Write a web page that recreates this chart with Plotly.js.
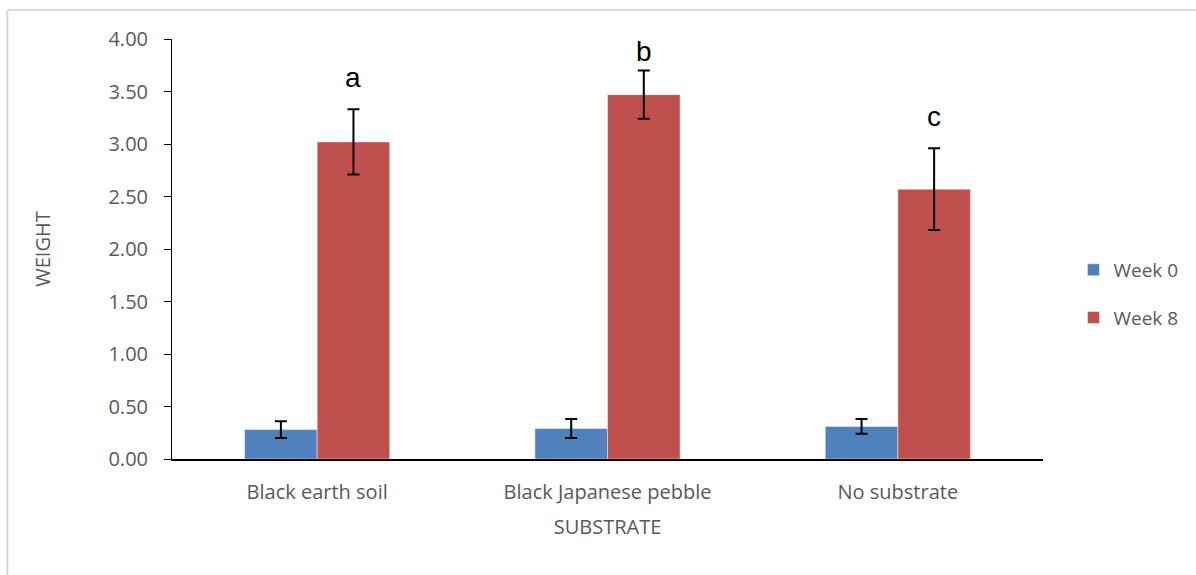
<!DOCTYPE html>
<html>
<head>
<meta charset="utf-8">
<script src="https://cdn.plot.ly/plotly-3.0.1.min.js"></script>
<style>
html,body{margin:0;padding:0;background:#fff;}
#chart{width:1196px;height:575px;}
</style>
</head>
<body>
<div id="chart"></div>
<script>
var categories = ['Black earth soil', 'Black Japanese pebble', 'No substrate'];
var week0 = [0.28, 0.29, 0.31];
var week0Err = [0.08, 0.09, 0.07];
var week8 = [3.02, 3.47, 2.57];
var week8Err = [0.31, 0.23, 0.39];
var letters = ['a', 'b', 'c'];
var letterShift = [14, 2, 14];
var yTicks = [0, 0.5, 1, 1.5, 2, 2.5, 3, 3.5, 4];

var tickFont = {family: '"Open Sans", "Noto Sans", sans-serif', size: 20, color: '#595959'};
var legendFont = {family: '"Open Sans", "Noto Sans", sans-serif', size: 19, color: '#595959'};

var traces = [
  {
    type: 'bar', name: 'Week 0', x: categories, y: week0,
    marker: {color: '#4f81bd', line: {color: 'rgba(255,255,255,0.45)', width: 1}},
    error_y: {type: 'data', array: week0Err, visible: true, color: '#000', thickness: 2, width: 6},
    legendgroup: 'g0'
  },
  {
    type: 'bar', name: 'Week 8', x: categories, y: week8,
    marker: {color: '#c0504d', line: {color: 'rgba(255,255,255,0.45)', width: 1}},
    error_y: {type: 'data', array: week8Err, visible: true, color: '#000', thickness: 2, width: 6},
    legendgroup: 'g1'
  }
];

var annotations = letters.map(function (t, i) {
  return {
    x: categories[i], y: week8[i] + week8Err[i], xref: 'x', yref: 'y',
    xshift: 36, yshift: letterShift[i],
    text: t, showarrow: false, yanchor: 'bottom',
    font: {family: '"Liberation Sans", Arial, sans-serif', size: 28, color: '#000'}
  };
});

var layout = {
  width: 1196, height: 575,
  margin: {l: 172, r: 151, t: 39, b: 116},
  paper_bgcolor: '#fff', plot_bgcolor: '#fff',
  barmode: 'group', bargap: 0.5, bargroupgap: 0,
  showlegend: true,
  legend: {
    x: 1.035, y: 0.393, xanchor: 'left', yanchor: 'middle',
    font: legendFont, traceorder: 'grouped', tracegroupgap: 20,
    itemwidth: 30
  },
  xaxis: {
    showline: true, linecolor: '#000', linewidth: 2,
    ticks: '', tickfont: tickFont, ticklabelstandoff: 14,
    title: {text: 'SUBSTRATE', font: tickFont, standoff: 16},
    showgrid: false, zeroline: false, fixedrange: true
  },
  yaxis: {
    range: [0, 4], tickvals: yTicks, tickformat: '.2f',
    showline: true, linecolor: '#000', linewidth: 1,
    ticks: 'outside', ticklen: 7, tickcolor: '#000', tickwidth: 1,
    tickfont: tickFont, ticklabelstandoff: 12,
    title: {text: 'WEIGHT', font: tickFont, standoff: 52},
    showgrid: false, zeroline: false, fixedrange: true
  },
  annotations: annotations,
  shapes: [
    {type: 'line', xref: 'paper', yref: 'paper', x0: -0.189, x1: 1.2, y0: 1.069, y1: 1.069, line: {color: '#d9d9d9', width: 2}},
    {type: 'line', xref: 'paper', yref: 'paper', x0: -0.189, x1: -0.189, y0: 1.069, y1: -0.3, line: {color: '#d9d9d9', width: 2}}
  ]
};

Plotly.newPlot('chart', traces, layout, {displayModeBar: false, staticPlot: true});
</script>
</body>
</html>
